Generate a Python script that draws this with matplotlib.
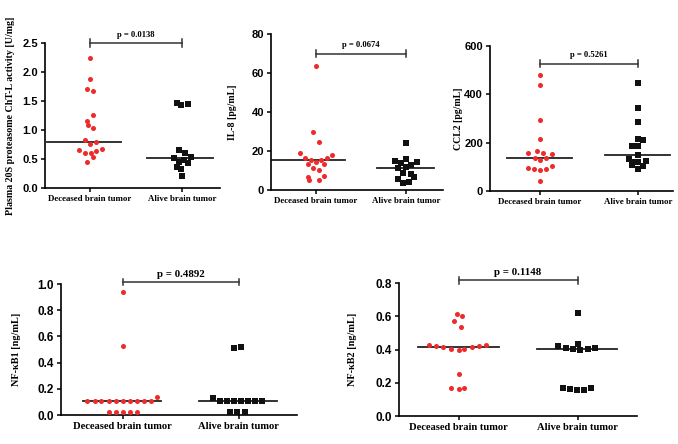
import numpy as np
import matplotlib
matplotlib.use("Agg")
import matplotlib.pyplot as plt

groups = ["Deceased brain tumor", "Alive brain tumor"]

# panel 1: plasma 20S proteasome
p1_dec = [2.24, 1.88, 1.70, 1.68, 1.26, 1.16, 1.08, 1.04, 0.82, 0.80, 0.755, 0.67, 0.65, 0.61, 0.60, 0.64, 0.53, 0.44]
p1_dec_dx = [0, 0, -0.03, 0.03, 0.03, -0.03, -0.02, 0.03, -0.055, 0.065, 0, 0.13, -0.12, -0.06, 0.01, 0.065, 0.03, -0.03]
p1_alv = [1.46, 1.43, 1.44, 0.66, 0.61, 0.52, 0.54, 0.45, 0.49, 0.43, 0.37, 0.33, 0.21]
p1_alv_dx = [-0.06, -0.01, 0.06, -0.03, 0.03, -0.09, 0.09, -0.04, 0.02, 0.06, -0.06, -0.01, 0.0]
p1_med = [0.80, 0.51]

# panel 2: IL-8
p2_dec = [63.4, 29.5, 24.8, 18.8, 18.0, 16.3, 15.2, 14.6, 15.2, 16.4, 13.4, 13.2, 11.1, 10.3, 6.9, 7.2, 5.1, 5.1]
p2_dec_dx = [0, -0.03, 0.03, -0.18, 0.18, -0.12, -0.06, 0.0, 0.06, 0.12, -0.09, 0.09, -0.03, 0.03, -0.09, 0.09, -0.08, 0.03]
p2_alv = [24.0, 14.7, 14.4, 13.7, 15.8, 12.8, 11.5, 12.0, 8.9, 8.4, 6.7, 5.5, 3.8, 4.1]
p2_alv_dx = [0, -0.12, 0.12, -0.06, 0, 0.06, -0.09, 0.0, -0.03, 0.06, 0.09, -0.09, -0.03, 0.03]
p2_med = [15.4, 11.5]

# panel 3: CCL2
p3_dec = [480, 438, 294, 214, 157, 167, 159, 152, 137, 129, 135, 96, 93, 88, 92, 104, 40]
p3_dec_dx = [0, 0, 0, 0, -0.12, -0.03, 0.03, 0.12, -0.05, 0, 0.06, -0.12, -0.06, 0, 0.06, 0.12, 0]
p3_alv = [446, 343, 287, 214, 211, 187, 188, 150, 132, 122, 125, 108, 119, 102, 92]
p3_alv_dx = [0, 0, 0, 0, 0.05, -0.06, 0, 0, -0.09, -0.03, 0.08, -0.06, 0, 0.05, 0]
p3_med = [135, 151]

# panel 4: NF-kB1
p4_dec = [0.94, 0.53, 0.11, 0.11, 0.11, 0.11, 0.11, 0.11, 0.11, 0.11, 0.11, 0.11, 0.138,
          0.023, 0.023, 0.023, 0.023, 0.023]
p4_dec_dx = [0, 0, -0.31, -0.24, -0.185, -0.12, -0.06, 0, 0.06, 0.12, 0.18, 0.24, 0.30,
             -0.12, -0.06, 0, 0.06, 0.12]
p4_alv = [0.515, 0.52, 0.133, 0.11, 0.11, 0.11, 0.11, 0.11, 0.11, 0.11, 0.023, 0.023, 0.023]
p4_alv_dx = [-0.04, 0.02, -0.22, -0.16, -0.10, -0.04, 0.02, 0.08, 0.14, 0.20, -0.08, -0.02, 0.05]
p4_med = [0.105, 0.11]

# panel 5: NF-kB2
p5_dec = [0.613, 0.603, 0.573, 0.537, 0.428, 0.422, 0.414, 0.406, 0.398, 0.406, 0.414, 0.42, 0.428,
          0.255, 0.171, 0.163, 0.167]
p5_dec_dx = [-0.01, 0.03, -0.04, 0.025, -0.25, -0.19, -0.13, -0.06, 0, 0.05, 0.11, 0.17, 0.23,
             0, -0.06, 0, 0.05]
p5_alv = [0.619, 0.436, 0.422, 0.412, 0.404, 0.398, 0.406, 0.41, 0.171, 0.165, 0.157, 0.157, 0.167]
p5_alv_dx = [0, 0, -0.16, -0.1, -0.04, 0.025, 0.085, 0.145, -0.12, -0.065, -0.005, 0.055, 0.115]
p5_med = [0.416, 0.406]

serif = "Liberation Serif"
sans = "Liberation Sans"

W, H = 678, 444
fig = plt.figure(figsize=(W / 100, H / 100), dpi=100)

panels = [
    dict(box=(45, 220, 43, 188), xlim=(-0.49, 1.41), ylim=(0, 2.5), yticks=np.arange(0, 2.51, 0.5), fmt="{:.1f}",
         dec=(p1_dec, p1_dec_dx), alv=(p1_alv, p1_alv_dx), med=p1_med,
         ext=[(-0.47, 0.33), (-0.38, 0.33)], by=2.5, ty=2.57, p="p = 0.0138",
         ylabel="Plasma 20S proteasome ChT-L activity [U/mg]", lab=30,
         cfs=6.4, tfs=8, lfs=7.2, pfs=6.2),
    dict(box=(271, 443, 34, 190), xlim=(-0.5, 1.41), ylim=(0, 80), yticks=np.arange(0, 81, 20), fmt="{:.0f}",
         dec=(p2_dec, p2_dec_dx), alv=(p2_alv, p2_alv_dx), med=p2_med,
         ext=[(-0.49, 0.32), (-0.32, 0.31)], by=70, ty=72.5, p="p = 0.0674",
         ylabel="IL-8 [pg/mL]", lab=34,
         cfs=6.4, tfs=8, lfs=7, pfs=6.2),
    dict(box=(490, 673, 46, 191), xlim=(-0.51, 1.36), ylim=(0, 600), yticks=np.arange(0, 601, 200), fmt="{:.0f}",
         dec=(p3_dec, p3_dec_dx), alv=(p3_alv, p3_alv_dx), med=p3_med,
         ext=[(-0.34, 0.33), (-0.33, 0.33)], by=527, ty=545, p="p = 0.5261",
         ylabel="CCL2 [pg/mL]", lab=27,
         cfs=6.4, tfs=8, lfs=7, pfs=6.2),
    dict(box=(61, 297, 284, 415), xlim=(-0.53, 1.5), ylim=(0, 1.0), yticks=np.arange(0, 1.01, 0.2), fmt="{:.1f}",
         dec=(p4_dec, p4_dec_dx), alv=(p4_alv, p4_alv_dx), med=p4_med,
         ext=[(-0.34, 0.33), (-0.34, 0.33)], by=1.015, ty=1.04, p="p = 0.4892",
         ylabel="NF-\u03baB1 [ng/mL]", lab=40,
         cfs=7.6, tfs=8.5, lfs=7.4, pfs=7.8),
    dict(box=(399, 637, 283, 416), xlim=(-0.5, 1.5), ylim=(0, 0.8), yticks=np.arange(0, 0.81, 0.2), fmt="{:.1f}",
         dec=(p5_dec, p5_dec_dx), alv=(p5_alv, p5_alv_dx), med=p5_med,
         ext=[(-0.34, 0.34), (-0.34, 0.33)], by=0.816, ty=0.835, p="p = 0.1148",
         ylabel="NF-\u03baB2 [ng/mL]", lab=42,
         cfs=7.6, tfs=8.5, lfs=7.4, pfs=7.8),
]

for pn in panels:
    l, r, t, b = pn["box"]
    ax = fig.add_axes([l / W, 1 - b / H, (r - l) / W, (b - t) / H])
    ax.set_xlim(*pn["xlim"])
    ax.set_ylim(*pn["ylim"])
    for sp in ["top", "right"]:
        ax.spines[sp].set_visible(False)
    for sp in ["left", "bottom"]:
        ax.spines[sp].set_linewidth(1.2)

    vals, dx = pn["dec"]
    ax.scatter(0 + np.array(dx), vals, s=13, color="#ee2a2a", marker="o", linewidths=0, zorder=3, clip_on=False)
    vals, dx = pn["alv"]
    ax.scatter(1 + np.array(dx), vals, s=13, color="#111111", marker="s", linewidths=0, zorder=3, clip_on=False)

    for i, (m, (lo, hi)) in enumerate(zip(pn["med"], pn["ext"])):
        ax.plot([i + lo, i + hi], [m, m], color="#222222", lw=1.3, zorder=2)

    # significance bracket
    yr = pn["ylim"][1] - pn["ylim"][0]
    ax.plot([0, 1], [pn["by"], pn["by"]], color="#333333", lw=1.1, clip_on=False)
    for xx in (0, 1):
        ax.plot([xx, xx], [pn["by"] - 0.025 * yr, pn["by"] + 0.025 * yr], color="#333333", lw=1.1, clip_on=False)
    ax.text(0.5, pn["ty"], pn["p"], ha="center", va="bottom", fontsize=pn["pfs"],
            fontweight="bold", family=serif)

    ax.set_xticks([0, 1])
    ax.set_xticklabels(groups, fontsize=pn["cfs"], fontweight="bold", family=serif)
    ax.set_yticks(pn["yticks"])
    ax.set_yticklabels([pn["fmt"].format(v) for v in pn["yticks"]], fontsize=pn["tfs"],
                       fontweight="bold", family=sans)
    ax.tick_params(axis="both", length=3, width=1.1, pad=2)
    ax.set_ylabel(pn["ylabel"], fontsize=pn["lfs"], fontweight="bold", family=serif)
    ax.yaxis.set_label_coords(-pn["lab"] / (r - l), 0.5)

fig.savefig("out.png", dpi=100)
